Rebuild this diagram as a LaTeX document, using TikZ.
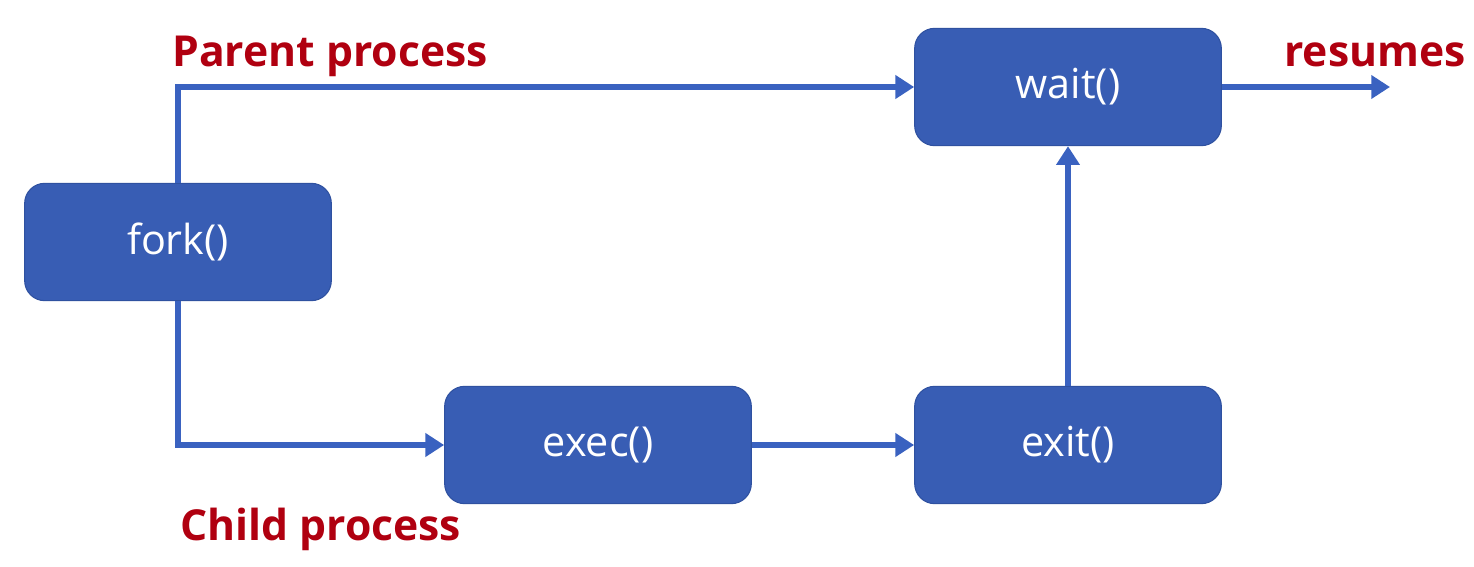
\documentclass[tikz,border=0pt]{standalone}
\usepackage{fontspec}
\setmainfont{Open Sans}
\usetikzlibrary{arrows.meta}
\definecolor{boxblue}{HTML}{385DB4}
\definecolor{boxedge}{HTML}{2F51A0}
\definecolor{lineblue}{HTML}{3A62C0}
\definecolor{labred}{HTML}{B00010}
\tikzset{
  proc/.style={draw=boxedge, line width=0.8pt, fill=boxblue, rounded corners=15pt,
    minimum width=230pt, minimum height=88pt, text=white, font=\fontsize{31}{33}\selectfont, inner sep=0pt},
  conn/.style={draw=lineblue, line width=3.8pt, -{Triangle[length=14pt,width=17pt]}},
  lab/.style={text=labred, font=\bfseries\fontsize{32}{34}\selectfont, inner sep=0pt}
}
\begin{document}
\begin{tikzpicture}[x=0.75pt,y=-0.75pt]
\useasboundingbox (0,0) rectangle (1474,567);
\node[proc] (fork) at (178,242) {fork()};
\node[proc] (wait) at (1068,87) {wait()};
\node[proc] (exec) at (598,445) {exec()};
\node[proc] (exit) at (1068,445) {exit()};
\coordinate (out) at (1390,87);
\draw[conn] (fork.north) |- (wait.west);
\draw[conn] (fork.south) |- (exec.west);
\draw[conn] (exec.east) -- (exit.west);
\draw[conn] (exit.north) -- (wait.south);
\draw[conn] (wait.east) -- (out);
\node[lab, anchor=base west] (parent) at (172,67) {Parent process};
\node[lab, anchor=base west] (child) at (180,540) {Child process};
\node[lab, anchor=base east] (resumes) at (1466,67) {resumes};
\end{tikzpicture}
\end{document}
